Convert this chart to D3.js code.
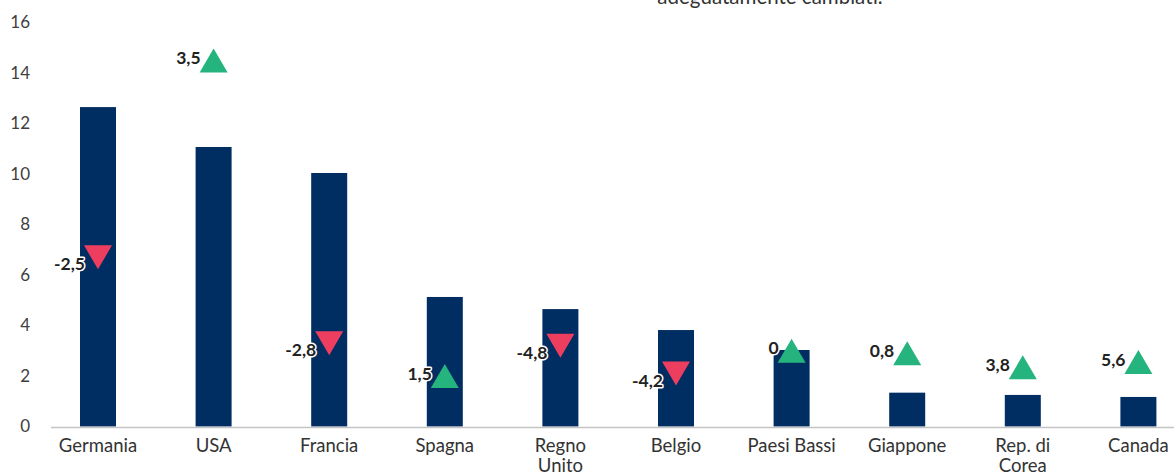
<!DOCTYPE html>
<html>
<head>
<meta charset="utf-8">
<script src="https://cdn.jsdelivr.net/npm/d3@7"></script>
<style>
  body { margin: 0; background: #fff; }
  svg { display: block; font-family: Lato, "Open Sans", sans-serif; }
</style>
</head>
<body>
<svg id="chart" width="1174" height="472"></svg>
<script>
// data ----------------------------------------------------------------------
const countries = ['Germania', 'USA', 'Francia', 'Spagna', 'Regno Unito', 'Belgio', 'Paesi Bassi', 'Giappone', 'Rep. di Corea', 'Canada'];
const labelLines = [['Germania'], ['USA'], ['Francia'], ['Spagna'], ['Regno', 'Unito'], ['Belgio'], ['Paesi Bassi'], ['Giappone'], ['Rep. di', 'Corea'], ['Canada']];
const barValues = [12.65, 11.07, 10.04, 5.13, 4.65, 3.82, 3.03, 1.34, 1.25, 1.17];
const markerPos = [6.7, 14.5, 3.3, 2.0, 3.2, 2.1, 3.0, 2.9, 2.35, 2.55];
const changeValues = [-2.5, 3.5, -2.8, 1.5, -4.8, -4.2, 0, 0.8, 3.8, 5.6];
const yTicks = [0, 2, 4, 6, 8, 10, 12, 14, 16];

let svg = d3.select('#chart');

let x = d3.scaleBand()
    .domain(countries)
    .range([40.2, 1196.2])
    .paddingInner(0.6886)
    .paddingOuter(0.3443);

let y = d3.scaleLinear()
    .domain([0, 16])
    .range([426.5, 22.5]);

// cut-off note at the top
svg.append('text')
    .attr('x', 770).attr('y', 4)
    .attr('text-anchor', 'middle')
    .attr('font-size', 20.5)
    .attr('fill', '#333')
    .text('adeguatamente cambiati.');

// y axis labels
svg.append('g').selectAll('text')
    .data(yTicks)
    .enter().append('text')
    .attr('x', 30)
    .attr('y', (d) => y(d))
    .attr('dy', '0.35em')
    .attr('text-anchor', 'end')
    .attr('font-size', 17)
    .attr('fill', '#404040')
    .text((d) => d);

// bars
svg.append('g').selectAll('rect')
    .data(countries)
    .enter().append('rect')
    .attr('x', (d) => x(d))
    .attr('width', x.bandwidth())
    .attr('y', (d, i) => y(barValues[i]))
    .attr('height', (d, i) => y(0) - y(barValues[i]))
    .attr('fill', '#002d62');

// baseline
svg.append('line')
    .attr('x1', 51).attr('x2', 1174)
    .attr('y1', y(0) + 1).attr('y2', y(0) + 1)
    .attr('stroke', '#c4c4c4')
    .attr('stroke-width', 1.5);

// x labels
let xl = svg.append('g').selectAll('text')
    .data(countries)
    .enter().append('text')
    .attr('x', (d) => x(d) + x.bandwidth() / 2)
    .attr('y', 452)
    .attr('text-anchor', 'middle')
    .attr('font-size', 18.5)
    .attr('fill', '#333');
xl.each(function (d, i) {
    let t = d3.select(this);
    labelLines[i].forEach((line, k) => {
        t.append('tspan')
            .attr('x', x(d) + x.bandwidth() / 2)
            .attr('dy', k === 0 ? 0 : 20)
            .text(line);
    });
});

// change markers
let tri = (cx, cy, up) => {
    let w = 14, h = 12;
    return up
        ? `M${cx - w},${cy + h}L${cx + w},${cy + h}L${cx},${cy - h}Z`
        : `M${cx - w},${cy - h}L${cx + w},${cy - h}L${cx},${cy + h}Z`;
};

let mk = svg.append('g');
countries.forEach((c, i) => {
    let cx = x(c) + x.bandwidth() / 2;
    let cy = y(markerPos[i]);
    let up = changeValues[i] >= 0;
    mk.append('path')
        .attr('d', tri(cx, cy, up))
        .attr('fill', up ? '#25b47e' : '#ee3e60');
    mk.append('text')
        .attr('x', cx - 13)
        .attr('y', cy + (up ? -2.5 : 7))
        .attr('dy', '0.35em')
        .attr('text-anchor', 'end')
        .attr('font-size', 17.5)
        .attr('font-weight', 'bold')
        .attr('fill', '#222')
        .attr('stroke', '#fff')
        .attr('stroke-width', 3)
        .attr('stroke-linejoin', 'round')
        .attr('paint-order', 'stroke')
        .text(String(changeValues[i]).replace('.', ','));
});
</script>
</body>
</html>
